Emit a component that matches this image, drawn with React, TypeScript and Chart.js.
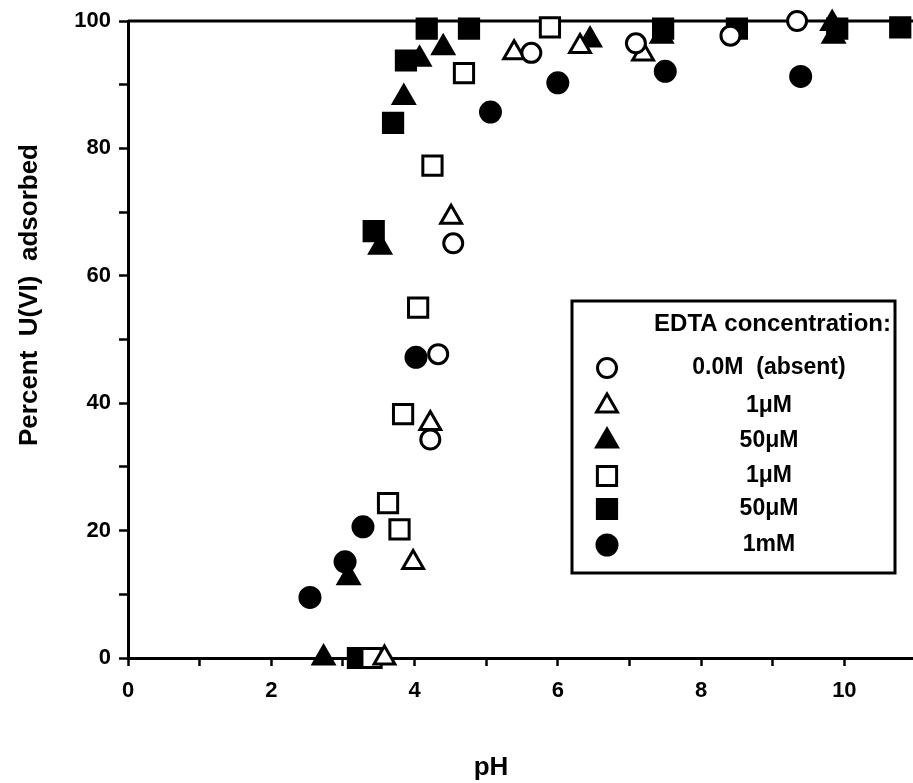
import React, { useEffect, useRef } from 'react';
import { Chart, registerables } from 'chart.js';
import { drawPoint } from 'chart.js/helpers';

Chart.register(...registerables);

const FONT = '"Liberation Sans", Arial, Helvetica, sans-serif';

// ---- data ----
const xTitle = 'pH';
const yTitle = 'Percent  U(VI)  adsorbed';
const legendTitle = 'EDTA concentration:';
const seriesLabels = ['0.0M  (absent)', '1\u03bcM', '50\u03bcM', '1\u03bcM', '50\u03bcM', '1mM'];

const absentX = [4.22, 4.33, 4.54, 5.63, 7.09, 8.41, 9.34];
const absentY = [34.3, 47.7, 65.1, 95.0, 96.5, 97.7, 100];

const tri1uMX = [3.58, 3.98, 4.22, 4.51, 5.39, 6.31, 7.19];
const tri1uMY = [0, 15.0, 36.8, 69.2, 95.0, 96.0, 94.8];

const tri50uMX = [2.73, 3.08, 3.52, 3.85, 4.07, 4.40, 6.45, 7.45, 9.83, 9.85];
const tri50uMY = [0, 12.6, 64.5, 88.0, 94.0, 95.8, 97.0, 97.6, 99.6, 97.6];

const sq1uMX = [3.40, 3.63, 3.79, 3.84, 4.05, 4.25, 4.69, 5.89];
const sq1uMY = [0, 24.3, 20.2, 38.3, 55.0, 77.3, 91.8, 99.0];

const sq50uMX = [3.21, 3.43, 3.70, 3.88, 4.17, 4.76, 7.47, 8.50, 9.90, 10.78];
const sq50uMY = [0, 67.0, 84.0, 93.8, 98.8, 98.8, 98.8, 98.8, 98.8, 99.0];

const circ1mMX = [2.54, 3.03, 3.28, 4.02, 5.06, 6.00, 7.50, 9.39];
const circ1mMY = [9.5, 15.1, 20.6, 47.2, 85.7, 90.3, 92.1, 91.3];

const xMin = 0;
const xMax = 11;
const yMin = 0;
const yMax = 100;

const seriesX = [absentX, tri1uMX, tri50uMX, sq1uMX, sq50uMX, circ1mMX];
const seriesY = [absentY, tri1uMY, tri50uMY, sq1uMY, sq50uMY, circ1mMY];

// ---- styles ----
const pointStyles = ['circle', 'triangle', 'triangle', 'rect', 'rect', 'circle'];
const filled = [false, false, true, false, true, true];
const radii = [9.5, 12, 12, 13.6, 13.6, 10];

const W = 916;
const H = 783;

const decorPlugin = {
  id: 'decor',
  beforeDatasetsDraw(chart: any) {
    const { ctx, chartArea } = chart;
    ctx.save();
    ctx.strokeStyle = '#000';
    ctx.lineWidth = 3;
    ctx.beginPath();
    ctx.moveTo(chartArea.left, chartArea.top);
    ctx.lineTo(chartArea.right, chartArea.top);
    ctx.lineTo(chartArea.right, chartArea.bottom);
    ctx.stroke();
    ctx.restore();
  },
  afterDraw(chart: any) {
    const { ctx } = chart;
    ctx.save();
    // axis titles
    ctx.fillStyle = '#000';
    ctx.font = `bold 26px ${FONT}`;
    ctx.textAlign = 'center';
    ctx.textBaseline = 'middle';
    ctx.fillText(xTitle, 491, 768);
    ctx.save();
    ctx.translate(30, 295);
    ctx.rotate(-Math.PI / 2);
    ctx.font = `bold 26px ${FONT}`;
    ctx.fillText(yTitle, 0, 0);
    ctx.restore();

    // legend box
    const bx = 572, by = 301, bw = 323, bh = 272;
    ctx.fillStyle = '#fff';
    ctx.fillRect(bx, by, bw, bh);
    ctx.strokeStyle = '#000';
    ctx.lineWidth = 3;
    ctx.strokeRect(bx, by, bw, bh);

    ctx.fillStyle = '#000';
    ctx.font = `bold 24px ${FONT}`;
    ctx.textAlign = 'right';
    ctx.fillText(legendTitle, 891, 324);

    const rows = [368, 406, 441, 476, 509, 545];
    chart.data.datasets.forEach((ds: any, i: number) => {
      const y = rows[i];
      ctx.save();
      ctx.fillStyle = ds.pointBackgroundColor;
      ctx.strokeStyle = ds.pointBorderColor;
      ctx.lineWidth = ds.pointBorderWidth;
      drawPoint(ctx, {
        pointStyle: ds.pointStyle,
        radius: ds.pointRadius,
        rotation: 0,
        borderWidth: ds.pointBorderWidth,
      } as any, 607, y);
      ctx.restore();
      ctx.fillStyle = '#000';
      ctx.font = `bold 23px ${FONT}`;
      ctx.textAlign = 'center';
      ctx.fillText(ds.label, 769, y);
    });
    ctx.restore();
  },
};

export default function App() {
  const ref = useRef<HTMLCanvasElement | null>(null);

  useEffect(() => {
    if (!ref.current) return;
    const datasets = seriesLabels.map((label, i) => ({
      label,
      data: seriesX[i].map((x, j) => ({ x, y: seriesY[i][j] })),
      pointStyle: pointStyles[i],
      pointRadius: radii[i],
      pointHoverRadius: radii[i],
      pointBorderWidth: 3,
      pointBorderColor: '#000',
      pointBackgroundColor: filled[i] ? '#000' : '#fff',
      showLine: false,
      clip: false as any,
    }));

    const tickFont = { family: FONT, size: 22, weight: 'bold' as const };

    const chart = new Chart(ref.current, {
      type: 'scatter',
      data: { datasets },
      options: {
        animation: false,
        responsive: false,
        devicePixelRatio: 1,
        layout: { autoPadding: false, padding: { top: 21, right: 0, bottom: 0, left: 0 } },
        plugins: {
          legend: { display: false },
          tooltip: { enabled: false },
          title: { display: false },
        },
        scales: {
          x: {
            type: 'linear',
            min: xMin,
            max: xMax,
            afterFit(scale: any) {
              scale.height = H - 658;
              scale.paddingLeft = 0;
              scale.paddingRight = 0;
            },
            border: { display: true, color: '#000', width: 3 },
            grid: {
              display: true,
              drawOnChartArea: false,
              drawTicks: true,
              tickLength: 8,
              tickWidth: 2.5,
              tickColor: '#000',
              color: '#000',
            },
            ticks: {
              stepSize: 1,
              autoSkip: false,
              maxRotation: 0,
              padding: 12,
              color: '#000',
              font: tickFont,
              callback: (v: any) => (Number(v) % 2 === 0 ? String(v) : ''),
            },
          },
          y: {
            type: 'linear',
            min: yMin,
            max: yMax,
            afterFit(scale: any) {
              scale.width = 128;
              scale.paddingTop = 0;
              scale.paddingBottom = 0;
            },
            border: { display: true, color: '#000', width: 3 },
            grid: {
              display: true,
              drawOnChartArea: false,
              drawTicks: true,
              tickLength: 9,
              tickWidth: 2.5,
              tickColor: '#000',
              color: '#000',
            },
            ticks: {
              stepSize: 10,
              autoSkip: false,
              padding: 8,
              color: '#000',
              font: tickFont,
              callback: (v: any) => (Number(v) % 20 === 0 ? String(v) : ''),
            },
          },
        },
      },
      plugins: [decorPlugin],
    });
    return () => chart.destroy();
  }, []);

  return (
    <div
      style={{
        position: 'absolute',
        left: 0,
        top: 0,
        width: 913,
        height: H,
        overflow: 'hidden',
        background: '#fff',
      }}
    >
      <canvas ref={ref} width={W} height={H} style={{ display: 'block', width: W, height: H }} />
    </div>
  );
}
